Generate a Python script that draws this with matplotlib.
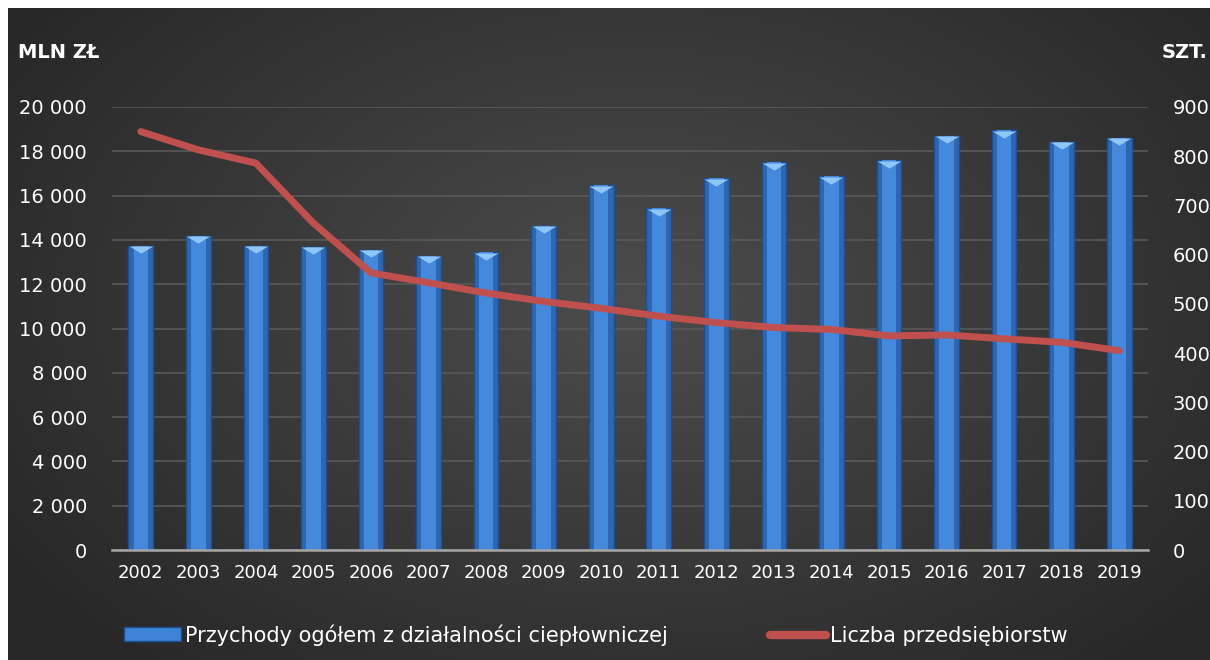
import numpy as np
import matplotlib
matplotlib.use('Agg')
import matplotlib.pyplot as plt
from matplotlib.colors import LinearSegmentedColormap
from matplotlib.lines import Line2D
from matplotlib.patches import Patch
import matplotlib.transforms as mtransforms

# data
years = ['2002', '2003', '2004', '2005', '2006', '2007', '2008', '2009', '2010',
         '2011', '2012', '2013', '2014', '2015', '2016', '2017', '2018', '2019']
revenue = [13740, 14190, 13740, 13690, 13560, 13290, 13450, 14640, 16470,
           15440, 16800, 17500, 16890, 17590, 18700, 18970, 18430, 18610]  # mln zl
companies = [850, 813, 786, 664, 563, 543, 522, 505, 491,
             475, 462, 452, 448, 435, 437, 429, 422, 405]  # szt.
left_ticks = [0, 2000, 4000, 6000, 8000, 10000, 12000, 14000, 16000, 18000, 20000]
right_ticks = [0, 100, 200, 300, 400, 500, 600, 700, 800, 900]

bar_label = 'Przychody ogółem z działalności ciepłowniczej'
line_label = 'Liczba przedsiębiorstw'

plt.rcParams['font.family'] = ['DejaVu Sans']
W, H = 1210, 660
fig = plt.figure(figsize=(W / 100, H / 100), dpi=100, facecolor='white')

# dark radial background
bg = fig.add_axes([8 / W, 0, 1 - 8 / W, 1 - 8 / H])
gx, gy = np.meshgrid(np.linspace(0, 1, 400), np.linspace(0, 1, 220))
r = np.sqrt(((gx - 0.52) / 0.75) ** 2 + ((gy - 0.45) / 0.9) ** 2)
cmap_bg = LinearSegmentedColormap.from_list('bg', ['#4c4c4c', '#272727'])
bg.imshow(np.clip(r, 0, 1), cmap=cmap_bg, aspect='auto', extent=[0, 1, 0, 1], vmin=0, vmax=0.85)
bg.axis('off')

ax = fig.add_axes([112 / W, 1 - 550 / H, (1148 - 112) / W, (550 - 107) / H])
ax.patch.set_alpha(0)
x = np.arange(len(years))

# bars: dark base, lighter center, bevel cap on top
ax.bar(x, revenue, width=0.43, color='#2d66b3', edgecolor='#1f4f8f', linewidth=1, zorder=2)
ax.bar(x, revenue, width=0.25, color='#4589dc', linewidth=0, zorder=3)
bevel = [(-1, 0), (1, 0), (0, -0.6)]
cap = mtransforms.offset_copy(ax.transData, fig=fig, x=0, y=-0.5, units='points')
ax.scatter(x, revenue, marker=bevel, s=290, color='#8ec6f7', linewidths=0, zorder=4, transform=cap)

ax.set_xlim(-0.5, len(years) - 0.5)
ax.set_ylim(0, 20000)
ax.set_yticks(left_ticks)
ax.set_yticklabels([f'{v:,}'.replace(',', ' ') for v in left_ticks])
ax.set_xticks(x)
ax.set_xticklabels(years)
ax.grid(axis='y', color='#595959', linewidth=1.2, zorder=0)
ax.set_axisbelow(True)
for s in ['top', 'right', 'left']:
    ax.spines[s].set_visible(False)
ax.spines['bottom'].set_color('#a6a6a6')
ax.spines['bottom'].set_linewidth(1.8)
ax.spines['bottom'].set_zorder(5)
ax.tick_params(axis='y', length=0, pad=18, labelsize=14, labelcolor='white')
ax.tick_params(axis='x', length=0, pad=10, labelsize=13, labelcolor='white')

ax2 = ax.twinx()
ax2.plot(x, companies, color='#c0504d', linewidth=5, solid_capstyle='round',
         solid_joinstyle='round', zorder=6)
ax2.set_ylim(0, 900)
ax2.set_yticks(right_ticks)
ax2.tick_params(axis='y', length=0, pad=18, labelsize=14, labelcolor='white')
for s in ax2.spines.values():
    s.set_visible(False)

fig.text(18 / W, 1 - 52 / H, 'MLN ZŁ', color='white', fontsize=14, fontweight='bold', va='center')
fig.text(1162 / W, 1 - 52 / H, 'SZT.', color='white', fontsize=14, fontweight='bold', va='center')

handles = [Patch(facecolor='#3f83d6', edgecolor='#1f4f8f'),
           Line2D([0], [0], color='#c0504d', linewidth=6, solid_capstyle='round')]
fig.legend(handles, [bar_label, line_label], loc='center', bbox_to_anchor=(596 / W, 1 - 635 / H),
           ncol=2, frameon=False, fontsize=15, labelcolor='white', handlelength=2.7,
           handletextpad=0.2, columnspacing=4.9, handleheight=0.65)

fig.savefig('out.png', dpi=100, facecolor='white')
